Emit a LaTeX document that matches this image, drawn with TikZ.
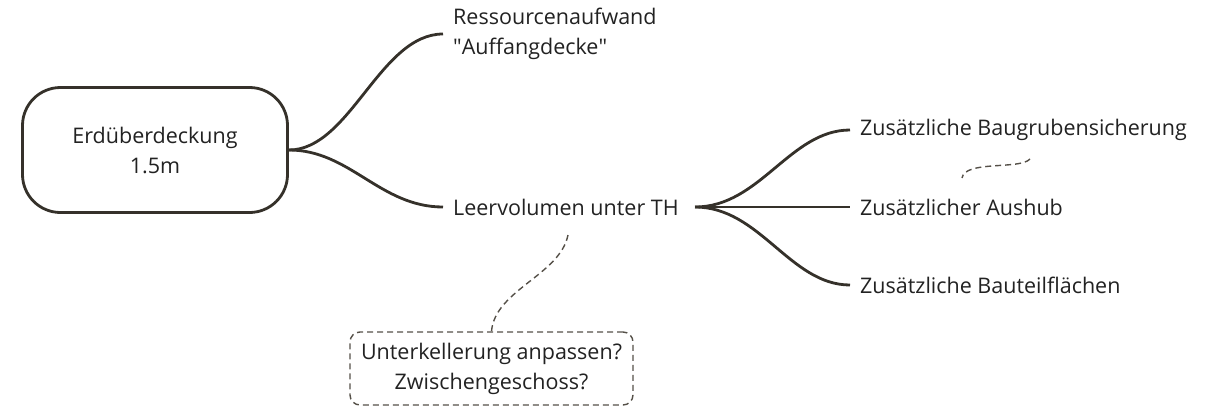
\documentclass[tikz,border=0pt]{standalone}
\usepackage{fontspec}
\setmainfont{Open Sans}
\definecolor{linebrown}{HTML}{35312A}
\definecolor{textgray}{HTML}{222222}
\definecolor{dashgray}{HTML}{555048}
\tikzset{
  root/.style={draw=linebrown, line width=2.8pt, rounded corners=38pt, align=center,
    minimum width=265pt, minimum height=125pt, text=textgray},
  leaf/.style={anchor=west, align=left, inner xsep=10pt, inner ysep=2pt, text=textgray},
  branch/.style={draw=linebrown, line width=2.8pt},
  note/.style={draw=dashgray, dash pattern=on 6pt off 4pt, line width=1.4pt, rounded corners=10pt, align=center,
    minimum width=283pt, minimum height=73pt, text=textgray},
  notelink/.style={draw=dashgray, dash pattern=on 6pt off 4pt, line width=1.4pt}
}
\begin{document}
\begin{tikzpicture}[x=1pt, y=-1pt, font=\fontsize{21.5}{30}\selectfont]
\useasboundingbox (0,0) rectangle (1214,407);
\node [root] (R) at (155,150) {Erdüberdeckung\\1.5m};
\node [leaf] (Auf) at (443,34) {Ressourcenaufwand\\\textquotedbl Auffangdecke\textquotedbl};
\node [leaf] (Leer) at (443,207) {Leervolumen unter TH};
\coordinate (LeerOut) at (695,207);
\node [leaf] (Bgs) at (850,130) {Zusätzliche Baugrubensicherung};
\node [leaf] (Aus) at (850,207) {Zusätzlicher Aushub};
\node [leaf] (Btf) at (850,285) {Zusätzliche Bauteilflächen};
\node [note] (Note) at (491.5,368.5) {Unterkellerung anpassen?\\Zwischengeschoss?};
% branches
\draw [branch] (R.east) .. controls (350,150) and (380,34) .. (Auf.west);
\draw [branch] (R.east) .. controls (350,150) and (380,207) .. (Leer.west);
\draw [branch] (LeerOut) .. controls (760,207) and (790,130) .. (Bgs.west);
\draw [branch] (LeerOut) -- (Aus.west);
\draw [branch] (LeerOut) .. controls (760,207) and (790,285) .. (Btf.west);
% notes
\coordinate (NoteIn) at (568,235);
\draw [notelink] (NoteIn) .. controls (560,275) and (495,290) .. (Note.north);
\coordinate (StrayA) at (1030,159);
\coordinate (StrayB) at (962,178);
\draw [notelink] (StrayA) .. controls (1020,170) and (965,160) .. (StrayB);
\end{tikzpicture}
\end{document}
